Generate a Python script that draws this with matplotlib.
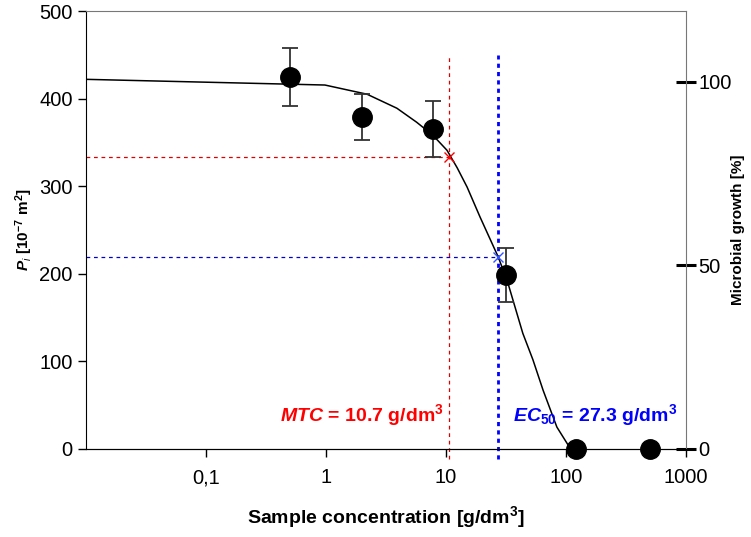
import numpy as np
import matplotlib
matplotlib.use('Agg')
import matplotlib.pyplot as plt
from matplotlib.ticker import FixedLocator, NullLocator

plt.rcParams['font.family'] = ['Liberation Sans', 'DejaVu Sans']
plt.rcParams['mathtext.fontset'] = 'custom'
plt.rcParams['mathtext.rm'] = 'Liberation Sans'
plt.rcParams['mathtext.it'] = 'Liberation Sans:italic'
plt.rcParams['mathtext.bf'] = 'Liberation Sans:bold'
plt.rcParams['mathtext.bfit'] = 'Liberation Sans:bold:italic'

# measured points (mean +/- error)
conc = [0.5, 2.0, 7.8, 31.5, 121.0, 500.0]
area = [425, 379, 365, 199, 0, 0]
err = [33, 26, 32, 31, 0, 0]

# fitted curve
fit_x = [0.01, 0.98, 2.2, 3.9, 5.7, 7.8, 10.2, 12.4, 15.0, 19.2, 27.3, 32.9, 43.7, 53.0, 64.5, 84.0, 107.0, 123.0]
fit_y = [422, 415.5, 405, 389, 373, 358, 341, 321, 299, 265, 219, 189, 132, 102, 67, 25, 2, 0]

MTC = 10.7
MTC_Y = 333
EC50 = 27.3
EC50_Y = 219

fig = plt.figure(figsize=(7.51, 5.37), dpi=100)
ax = fig.add_axes([0.1145, 0.1639, 0.7989, 0.8156])
ax.set_xscale('log')
ax.set_xlim(0.01, 1000)
ax.set_ylim(0, 500)

ax.plot(fit_x, fit_y, color='black', linewidth=1.1, zorder=3)
ax.errorbar(conc, area, yerr=err, fmt='o', color='black', markersize=14,
            ecolor='#333333', elinewidth=1.3, capsize=6, capthick=1.3, zorder=4, clip_on=False)

# MTC / EC50 guides
ax.plot([0.01, MTC], [MTC_Y, MTC_Y], color='#dd0000', linestyle=(0, (3, 3)), linewidth=0.9)
ax.plot([MTC, MTC], [-12, 450], color='#dd0000', linestyle=(0, (3, 3)), linewidth=0.9, clip_on=False)
ax.plot([0.01, EC50], [EC50_Y, EC50_Y], color='#0000cc', linestyle=(0, (3, 3)), linewidth=0.9)
ax.plot([EC50, EC50], [-12, 450], color='#0000ff', linestyle=(0, (1.5, 1.5)), linewidth=2.0, clip_on=False)
ax.plot([MTC], [MTC_Y], 'x', color='red', markersize=7, mew=1.0, zorder=5)
ax.plot([EC50], [EC50_Y], 'x', color='#3355ff', markersize=7, mew=1.0, zorder=5)

ax.text(2.0, 32, r'$\bfit{MTC}$' + ' = 10.7 g/dm$^\\mathbf{3}$', color='red', fontsize=14,
        fontweight='bold', ha='center', va='baseline')
ax.text(174, 32, r'$\bfit{EC}_{\mathbf{50}}$' + ' = 27.3 g/dm$^\\mathbf{3}$', color='#0000ff', fontsize=14,
        fontweight='bold', ha='center', va='baseline')

ax.xaxis.set_major_locator(FixedLocator([0.1, 1, 10, 100, 1000]))
ax.xaxis.set_minor_locator(NullLocator())
ax.set_xticklabels(['0,1', '1', '10', '100', '1000'])
ax.set_yticks([0, 100, 200, 300, 400, 500])
ax.tick_params(axis='both', direction='out', length=6, width=1, labelsize=14.5)
ax.tick_params(axis='x', pad=8)

ax.spines['top'].set_color('#777777')
ax.spines['right'].set_visible(False)

ax.set_xlabel('Sample concentration [g/dm$^\\mathbf{3}$]', fontsize=14, fontweight='bold', labelpad=12)
ax.set_ylabel(r'$\bfit{P}_{\mathit{i}}$ [10$^{\mathbf{-7}}$ m$^\mathbf{2}$]', fontsize=11, fontweight='bold')
ax.yaxis.set_label_coords(-0.085, 0.5)

ax2 = ax.twinx()
ax2.set_ylim(0, 500 / 419 * 100)
ax2.set_yticks([0, 50, 100])
ax2.tick_params(axis='y', direction='inout', length=14, width=2.2, labelsize=14.5, pad=2)
ax2.spines['right'].set_color('#777777')
ax2.spines['top'].set_visible(False)
ax2.spines['left'].set_visible(False)
ax2.set_ylabel('Microbial growth [%]', fontsize=11, fontweight='bold')
ax2.yaxis.set_label_coords(1.075, 0.5)

fig.savefig('out.png', dpi=100)
